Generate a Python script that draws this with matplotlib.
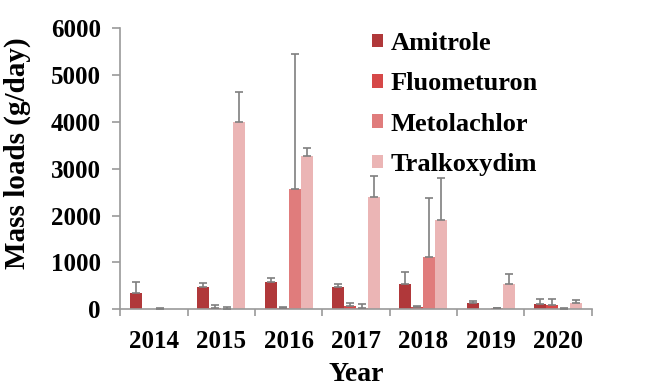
import numpy as np
import matplotlib
matplotlib.use("Agg")
import matplotlib.pyplot as plt

years = ["2014", "2015", "2016", "2017", "2018", "2019", "2020"]
compounds = ["Amitrole", "Fluometuron", "Metolachlor", "Tralkoxydim"]

amitrole = [355, 468, 581, 468, 547, 143, 120]
amitrole_err = [226, 92, 85, 78, 240, 43, 93]
fluometuron = [0, 30, 20, 64, 50, 0, 100]
fluometuron_err = [0, 55, 30, 78, 20, 0, 128]
metolachlor = [15, 15, 2560, 35, 1110, 20, 15]
metolachlor_err = [5, 25, 2900, 85, 1260, 10, 20]
tralkoxydim = [0, 4000, 3280, 2390, 1900, 532, 143]
tralkoxydim_err = [0, 650, 160, 450, 910, 220, 49]

colors = ["#B0383A", "#D64848", "#E07C7C", "#EBB5B5"]
series = [amitrole, fluometuron, metolachlor, tralkoxydim]
errors = [amitrole_err, fluometuron_err, metolachlor_err, tralkoxydim_err]

plt.rcParams["font.family"] = "Liberation Serif"
plt.rcParams["font.weight"] = "bold"

fig = plt.figure(figsize=(6.46, 3.88), dpi=100)
ax = fig.add_axes([0.186, 0.203, 0.730, 0.724])

x = np.arange(len(years))
width = 0.178
for i, (vals, err, color, name) in enumerate(zip(series, errors, colors, compounds)):
    pos = x + (i - 1.5) * width
    vals = np.array(vals)
    err = np.array(err)
    ax.bar(pos, vals, width=width, color=color, label=name, zorder=2)
    # skip error bars for samples with no load
    keep = (vals > 0) | (err > 0)
    ax.errorbar(pos[keep], vals[keep], yerr=[np.zeros(keep.sum()), err[keep]], fmt="none",
                ecolor="#7F7F7F", elinewidth=1.2, capsize=3, capthick=1.2, zorder=3)

ax.set_xlim(-0.5, len(years) - 0.5)
ax.set_ylim(0, 6000)
ax.set_yticks(range(0, 6001, 1000))
ax.set_xticks(x)
ax.set_xticklabels(years)
ax.set_xticks(np.arange(-0.5, len(years), 1.0), minor=True)
ax.tick_params(axis="x", which="major", length=0, pad=15, labelsize=18)
ax.tick_params(axis="x", which="minor", length=5, width=1.2, color="#9A9A9A", direction="out")
ax.tick_params(axis="y", length=6, width=1.2, color="#9A9A9A", pad=8, labelsize=18)

for side in ["top", "right"]:
    ax.spines[side].set_visible(False)
for side in ["left", "bottom"]:
    ax.spines[side].set_color("#9A9A9A")
    ax.spines[side].set_linewidth(1.2)

ax.set_xlabel("Year", fontsize=20, fontweight="bold")
ax.xaxis.set_label_coords(0.5, -0.187)
ax.set_ylabel("Mass loads (g/day)", fontsize=21, fontweight="bold")
ax.yaxis.set_label_coords(-0.19, 0.556)

fig.legend(loc="upper left", bbox_to_anchor=(0.556, 0.952), frameon=False,
           fontsize=19, handlelength=0.42, handleheight=0.42, handletextpad=0.28,
           labelspacing=0.66, borderpad=0)

fig.savefig("out.png", dpi=100)
